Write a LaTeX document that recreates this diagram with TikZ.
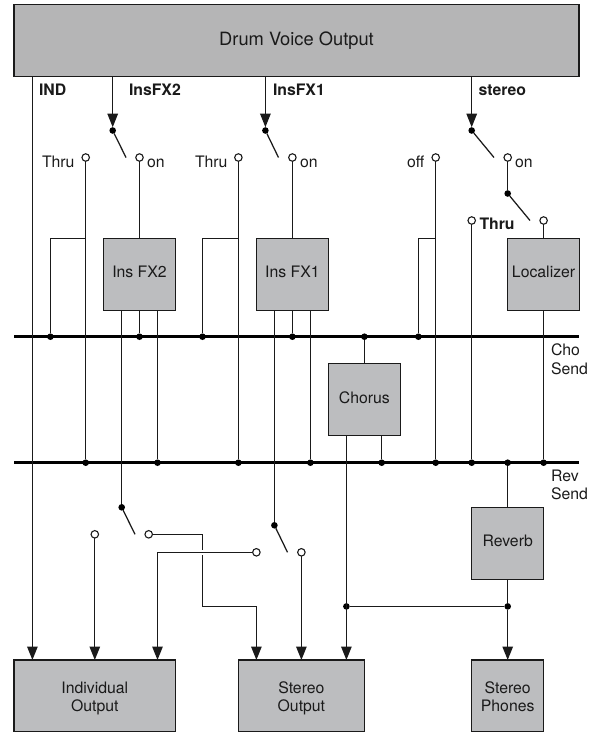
\documentclass[tikz,border=0pt]{standalone}
\usepackage{fontspec}
\setmainfont{TeX Gyre Heros}
\usetikzlibrary{arrows.meta}
\definecolor{boxgray}{HTML}{BCBDBF}
\definecolor{topgray}{HTML}{B5B5B6}
\definecolor{ink}{HTML}{1A1A1A}
\tikzset{
  unit/.style={draw=ink,fill=boxgray,line width=1.25pt,minimum width=72pt,minimum height=72pt,inner sep=0pt,outer sep=0pt,align=center,font=\fontsize{15.8}{18}\selectfont,text=ink},
  oneline/.style={unit,text height=11pt,text depth=4pt},
  twoline/.style={unit,text height=34pt,text depth=4pt},
  wire/.style={draw=ink,line width=1.25pt},
  arrowed/.style={wire,-{Triangle[length=13.5pt,width=10.5pt]}},
  bus/.style={draw=black,line width=2.7pt},
  jdot/.style={circle,fill=black,draw=none,inner sep=0pt,minimum size=6.6pt,outer sep=0pt},
  odot/.style={circle,fill=white,draw=ink,line width=1.1pt,inner sep=0pt,minimum size=7.5pt,outer sep=0pt},
  lbl/.style={anchor=base west,inner sep=0pt,outer sep=0pt,font=\fontsize{15.8}{18.3}\selectfont,text=ink,align=left},
  blbl/.style={lbl,font=\fontsize{15.8}{18}\selectfont\bfseries},
}
\begin{document}
\begin{tikzpicture}[x=1pt,y=-1pt]
\useasboundingbox (0,0) rectangle (593,732);
% boxes
\node[unit,fill=topgray,minimum width=565pt,minimum height=72pt,font=\fontsize{18.3}{20}\selectfont,text height=13pt,text depth=2.8pt] (drum) at (296.5,40.6) {Drum Voice Output};
\node[oneline] (fxB) at (139.5,274.2) {Ins FX2};
\node[oneline] (fxA) at (292.4,274.2) {Ins FX1};
\node[oneline] (loc) at (543.6,274.2) {Localizer};
\node[oneline] (cho) at (364.4,399.8) {Chorus};
\node[oneline] (rev) at (507.7,543.3) {Reverb};
\node[twoline,minimum width=161.5pt] (indiv) at (94.75,696) {Individual\\Output};
\node[twoline,minimum width=126pt] (stout) at (301.4,696) {Stereo\\Output};
\node[twoline] (phones) at (507.7,696) {Stereo\\Phones};
% bus ends
\coordinate (choL) at (14,336.7);
\coordinate (choR) at (579,336.7);
\coordinate (revL) at (14,462.7);
\coordinate (revR) at (579,462.7);
% upper switch dots
\node[jdot] (swB) at (112.7,130.5) {};
\node[jdot] (swA) at (265.4,130.5) {};
\node[jdot] (swS) at (471.7,130.5) {};
\node[jdot] (swL) at (507.7,193.5) {};
% open contacts
\node[odot] (thruB) at (85.7,157.5) {};
\node[odot] (onB) at (139.5,157.5) {};
\node[odot] (thruA) at (238.4,157.5) {};
\node[odot] (onA) at (292.4,157.5) {};
\node[odot] (off) at (435.7,157.5) {};
\node[odot] (onS) at (507.7,157.5) {};
\node[odot] (thruS) at (471.7,220.5) {};
\node[odot] (onL) at (543.6,220.5) {};
% cho dots
\node[jdot] (c1) at (50.4,336.7) {};
\node[jdot] (c2) at (139.5,336.7) {};
\node[jdot] (c3) at (202.5,336.7) {};
\node[jdot] (c4) at (292.4,336.7) {};
\node[jdot] (c5) at (364.4,336.7) {};
\node[jdot] (c6) at (418.4,336.7) {};
% rev dots
\node[jdot] (r1) at (85.7,462.7) {};
\node[jdot] (r2) at (157.5,462.7) {};
\node[jdot] (r3) at (238.4,462.7) {};
\node[jdot] (r4) at (310.4,462.7) {};
\node[jdot] (r5) at (381.7,462.7) {};
\node[jdot] (r6) at (435.7,462.7) {};
\node[jdot] (r7) at (471.7,462.7) {};
\node[jdot] (r8) at (507.7,462.7) {};
\node[jdot] (r9) at (543.6,462.7) {};
% lower switches
\node[jdot] (swC) at (121.7,507.3) {};
\node[jdot] (swD) at (274.4,525.3) {};
\node[odot] (o1) at (94.8,534.3) {};
\node[odot] (o2) at (148.7,534.3) {};
\node[odot] (o3) at (256.4,552.3) {};
\node[odot] (o4) at (301.4,552.3) {};
% mix dots
\node[jdot] (m1) at (346.4,606.4) {};
\node[jdot] (m2) at (507.7,606.4) {};
% lever ends
\coordinate (lB) at (126,157.5);
\coordinate (lA) at (278.5,157.5);
\coordinate (lS) at (494,157.5);
\coordinate (lL) at (530,220.5);
\coordinate (lC) at (135,534.3);
\coordinate (lD) at (287.5,552.3);
% branch corners
\coordinate (bB) at (85.7,238.3);
\coordinate (bA) at (238.4,238.3);
\coordinate (bO) at (435.7,238.3);
% route corners
\coordinate (p1) at (202.5,534.3);
\coordinate (p2) at (202.5,606.4);
\coordinate (p3) at (256.4,606.4);
\coordinate (q1) at (157.5,552.3);
\coordinate (cross) at (202.5,552.3);
% source taps
\coordinate (tI) at (32.4,76.6);
% buses
\draw[bus] (choL) -- (choR);
\draw[bus] (revL) -- (revR);
% feeds
\draw[arrowed] (tI) -- (tI |- indiv.north);
\draw[arrowed] (swB |- drum.south) -- (swB);
\draw[arrowed] (swA |- drum.south) -- (swA);
\draw[arrowed] (swS |- drum.south) -- (swS);
% levers
\draw[wire] (swB) -- (lB);
\draw[wire] (swA) -- (lA);
\draw[wire] (swS) -- (lS);
\draw[wire] (swL) -- (lL);
\draw[wire] (swC) -- (lC);
\draw[wire] (swD) -- (lD);
% thru / off lines
\draw[wire] (thruB) -- (r1);
\draw[wire] (bB) -| (c1);
\draw[wire] (thruA) -- (r3);
\draw[wire] (bA) -| (c3);
\draw[wire] (off) -- (r6);
\draw[wire] (bO) -| (c6);
\draw[wire] (thruS) -- (r7);
% on lines
\draw[wire] (onB) -- (fxB);
\draw[wire] (onA) -- (fxA);
\draw[wire] (onS) -- (swL);
\draw[wire] (onL) -- (loc);
% effect outputs
\draw[wire] (fxB) -- (c2);
\draw[wire] (fxA) -- (c4);
\draw[wire] (swC |- fxB.south) -- (swC);
\draw[wire] (r2 |- fxB.south) -- (r2);
\draw[wire] (swD |- fxA.south) -- (swD);
\draw[wire] (r4 |- fxA.south) -- (r4);
\draw[wire] (loc) -- (r9);
\draw[wire] (c5) -- (cho);
\draw[wire] (r5 |- cho.south) -- (r5);
\draw[wire] (r8) -- (rev);
% output routing
\draw[arrowed] (o1) -- (o1 |- indiv.north);
\draw[arrowed] (o4) -- (o4 |- stout.north);
\draw[wire] (o2) -- (p1) -- (p2) -- (p3);
\draw[arrowed] (p3) -- (p3 |- stout.north);
\draw[draw=white,line width=5.5pt] ([xshift=-2pt]cross) -- ([xshift=2pt]cross);
\draw[wire] (o3) -- (q1);
\draw[arrowed] (q1) -- (q1 |- indiv.north);
\draw[arrowed] (m1 |- cho.south) -- (m1 |- stout.north);
\draw[wire] (rev) -- (m2);
\draw[wire] (m1) -- (m2);
\draw[arrowed] (m2) -- (phones);
% labels
\node[blbl] (tInd) at (39,95) {IND};
\node[blbl] (tFxB) at (129,95) {InsFX2};
\node[blbl] (tFxA) at (273,95) {InsFX1};
\node[blbl] (tSt) at (478.7,95) {stereo};
\node[lbl] (t1) at (42,167) {Thru};
\node[lbl] (t2) at (147,167) {on};
\node[lbl] (t3) at (195,167) {Thru};
\node[lbl] (t4) at (300,167) {on};
\node[lbl] (t5) at (407,167) {off};
\node[lbl] (t6) at (515,167) {on};
\node[blbl] (t7) at (479.5,229) {Thru};
\node[lbl] (t8) at (551,374) {Cho\\Send};
\node[lbl] (t9) at (551,499.3) {Rev\\Send};
\end{tikzpicture}
\end{document}
